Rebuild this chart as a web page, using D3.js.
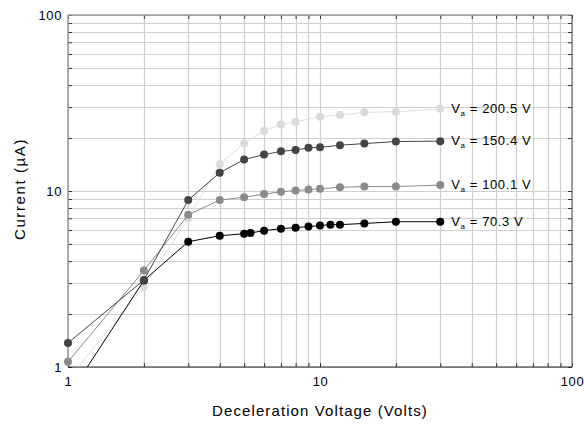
<!DOCTYPE html>
<html>
<head>
<meta charset="utf-8">
<script src="https://cdn.jsdelivr.net/npm/d3@7"></script>
<style>
  body { margin: 0; background: #fff; }
  svg text { font-family: "Liberation Sans", Arial, sans-serif; }
</style>
</head>
<body>
<svg id="chart"></svg>
<script>
// data
const volts70 = [1, 2, 3, 4, 5, 5.3, 6, 7, 8, 9, 10, 11, 12, 15, 20, 30];
const current70 = [0.68, 3.1, 5.15, 5.57, 5.72, 5.78, 5.95, 6.11, 6.19, 6.28, 6.36, 6.44, 6.44, 6.54, 6.69, 6.69];

const volts100 = [1, 2, 3, 4, 5, 6, 7, 8, 9, 10, 12, 15, 20, 30];
const current100 = [1.07, 3.53, 7.32, 8.88, 9.22, 9.6, 9.9, 10.05, 10.2, 10.3, 10.5, 10.6, 10.6, 10.8];

const volts150 = [1, 2, 3, 4, 5, 6, 7, 8, 9, 10, 12, 15, 20, 30];
const current150 = [1.37, 3.12, 8.88, 12.7, 15.1, 16.1, 16.8, 17.1, 17.6, 17.7, 18.2, 18.6, 19.1, 19.2];

const volts200 = [1, 2, 3, 4, 5, 6, 7, 8, 10, 12, 15, 20, 30];
const current200 = [0.85, 2.85, 7.0, 14.2, 18.7, 22.0, 23.9, 24.7, 26.4, 27.0, 28.0, 28.2, 29.3];

const seriesLabels = ['200.5', '100.1', '70.3', '150.4'];
const tickLabels = [1, 10, 100];

const width = 584, height = 424;
const mLeft = 68, mRight = 572, mTop = 15, mBottom = 367;

const svg = d3.select('#chart')
  .attr('width', width)
  .attr('height', height);

const x = d3.scaleLog().domain([1, 100]).range([mLeft, mRight]);
const y = d3.scaleLog().domain([1, 100]).range([mBottom, mTop]);

// grid
svg.append('g')
  .selectAll('line')
  .data(x.ticks())
  .join('line')
  .attr('x1', d => Math.round(x(d)) + 0.5)
  .attr('x2', d => Math.round(x(d)) + 0.5)
  .attr('y1', mTop)
  .attr('y2', mBottom)
  .attr('stroke', '#cfcfcf')
  .attr('stroke-width', 1.2);

svg.append('g')
  .selectAll('line')
  .data(y.ticks())
  .join('line')
  .attr('y1', d => Math.round(y(d)) + 0.5)
  .attr('y2', d => Math.round(y(d)) + 0.5)
  .attr('x1', mLeft)
  .attr('x2', mRight)
  .attr('stroke', '#cfcfcf')
  .attr('stroke-width', 1.2);

// axes with inward ticks
const fmt = d => tickLabels.includes(d) ? d : '';

function styleAxis(g) {
  g.select('.domain').remove();
  g.selectAll('.tick line').attr('stroke', '#333');
  g.selectAll('.tick text').attr('fill', '#000').attr('font-size', 13).attr('letter-spacing', 0.6);
}

svg.append('g')
  .attr('transform', `translate(0,${mBottom})`)
  .call(d3.axisBottom(x).tickValues(x.ticks()).tickFormat(fmt).tickSizeInner(-4).tickSizeOuter(0).tickPadding(10))
  .call(styleAxis);

svg.append('g')
  .attr('transform', `translate(0,${mTop})`)
  .call(d3.axisTop(x).tickValues(x.ticks()).tickFormat('').tickSizeInner(-4).tickSizeOuter(0))
  .call(styleAxis);

svg.append('g')
  .attr('transform', `translate(${mLeft},0)`)
  .call(d3.axisLeft(y).tickValues(y.ticks()).tickFormat(fmt).tickSizeInner(-4).tickSizeOuter(0).tickPadding(6))
  .call(styleAxis);

svg.append('g')
  .attr('transform', `translate(${mRight},0)`)
  .call(d3.axisRight(y).tickValues(y.ticks()).tickFormat('').tickSizeInner(-4).tickSizeOuter(0))
  .call(styleAxis);

// frame
svg.append('line').attr('x1', mLeft).attr('x2', mRight).attr('y1', mTop).attr('y2', mTop)
  .attr('stroke', '#999').attr('stroke-width', 1.5);
svg.append('line').attr('x1', mLeft).attr('x2', mLeft).attr('y1', mTop).attr('y2', mBottom)
  .attr('stroke', '#999').attr('stroke-width', 1.5);
svg.append('line').attr('x1', mLeft).attr('x2', mRight).attr('y1', mBottom).attr('y2', mBottom)
  .attr('stroke', '#222').attr('stroke-width', 1);
svg.append('line').attr('x1', mRight).attr('x2', mRight).attr('y1', mTop).attr('y2', mBottom)
  .attr('stroke', '#555').attr('stroke-width', 1);

// clip to the plot area
svg.append('clipPath').attr('id', 'plot')
  .append('rect').attr('x', mLeft - 6).attr('y', mTop).attr('width', mRight - mLeft + 12).attr('height', mBottom - mTop);

const series = [
  { volts: volts200, current: current200, color: '#dadada', line: '#e0e0e0', label: seriesLabels[0] },
  { volts: volts100, current: current100, color: '#8a8a8a', line: '#8a8a8a', label: seriesLabels[1] },
  { volts: volts70, current: current70, color: '#000', line: '#000', label: seriesLabels[2] },
  { volts: volts150, current: current150, color: '#444', line: '#444', label: seriesLabels[3] }
];

const line = d3.line().x(d => x(d[0])).y(d => y(d[1]));
const plot = svg.append('g').attr('clip-path', 'url(#plot)');

series.forEach(function(s) {
  const pts = s.volts.map((v, i) => [v, s.current[i]]);
  plot.append('path')
    .attr('d', line(pts))
    .attr('fill', 'none')
    .attr('stroke', s.line)
    .attr('stroke-width', 1);
  plot.selectAll(null)
    .data(pts.filter(p => p[1] >= 1))
    .join('circle')
    .attr('cx', d => x(d[0]))
    .attr('cy', d => y(d[1]))
    .attr('r', 4)
    .attr('fill', s.color);

  const last = pts[pts.length - 1];
  const t = svg.append('text')
    .attr('x', x(last[0]) + 11)
    .attr('y', y(last[1]) + 4)
    .attr('font-size', 13)
    .attr('letter-spacing', 0.6)
    .attr('fill', '#000');
  t.append('tspan').text('V');
  t.append('tspan').attr('font-size', 8).attr('dy', 3).text('a');
  t.append('tspan').attr('dy', -3).text(` = ${s.label} V`);
});

// axis titles
svg.append('text')
  .attr('x', (mLeft + mRight) / 2)
  .attr('y', 416)
  .attr('text-anchor', 'middle')
  .attr('font-size', 15)
  .attr('letter-spacing', 1.1)
  .text('Deceleration Voltage (Volts)');

svg.append('text')
  .attr('transform', `translate(25,${(mTop + mBottom) / 2 - 2}) rotate(-90)`)
  .attr('text-anchor', 'middle')
  .attr('font-size', 15)
  .attr('letter-spacing', 1.6)
  .text('Current (µA)');
</script>
</body>
</html>
